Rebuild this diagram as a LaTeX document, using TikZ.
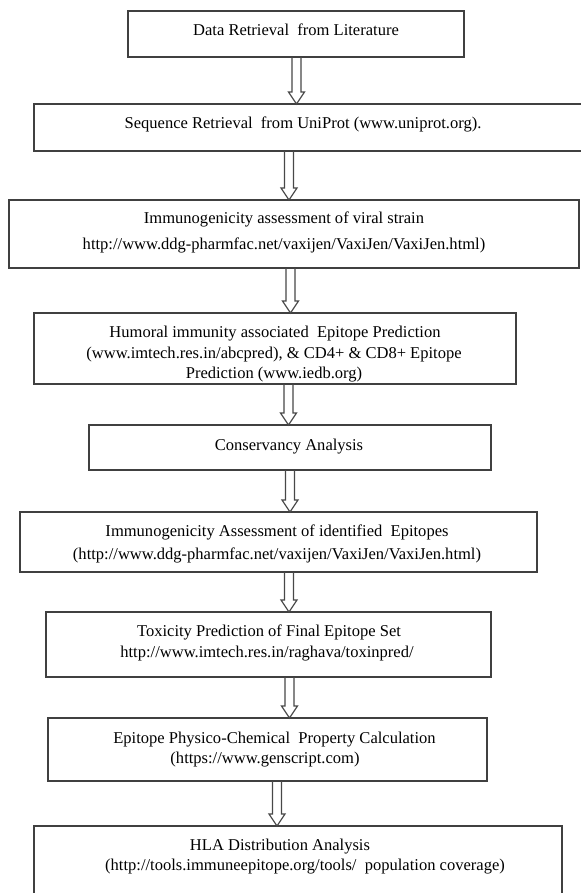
\documentclass[tikz,border=0pt]{standalone}
\usepackage{fontspec}
\setmainfont{Liberation Serif}
\usetikzlibrary{calc,fit}
\definecolor{boxline}{HTML}{404040}
\definecolor{arrline}{HTML}{484848}
\newcommand\flowarrow[3]{%
  \path (#1.south -| #3,0) coordinate (fa-s) (#2.north -| #3,0) coordinate (fa-t);
  \draw[arr] ($(fa-s)+(-4.5,0)$) -- ($(fa-t)+(-4.5,-12)$) -- ($(fa-t)+(-8,-12)$) -- (fa-t)
    -- ($(fa-t)+(8,-12)$) -- ($(fa-t)+(4.5,-12)$) -- ($(fa-s)+(4.5,0)$);
}
\begin{document}
\begin{tikzpicture}[x=0.75pt,y=-0.75pt,
  box/.style={draw=boxline, line width=1.1pt, inner sep=0pt, outer sep=0pt},
  lbl/.style={inner sep=0pt, anchor=base, font=\fontsize{12.4}{14}\selectfont},
  arr/.style={draw=arrline, line width=0.85pt, line join=miter}]
\clip (0,0) rectangle (581,893);
\fill[white] (0,0) rectangle (581,893);
% boxes
\node[box, fit={(128,11) (464,57)}] (b1) {};
\node[box, fit={(34,104) (600,151)}] (b2) {};
\node[box, fit={(9,200) (579,268)}] (b3) {};
\node[box, fit={(34,313) (516,384)}] (b4) {};
\node[box, fit={(89,425) (491,470)}] (b5) {};
\node[box, fit={(20,512) (537,572)}] (b6) {};
\node[box, fit={(46,612) (491,677)}] (b7) {};
\node[box, fit={(48,718) (487,781)}] (b8) {};
\node[box, fit={(34,826) (562,905)}] (b9) {};
% texts
\node[lbl] (t1) at (296,35) {Data Retrieval\ \ from Literature};
\node[lbl] (t2) at (303,128) {Sequence Retrieval\ \ from UniProt (www.uniprot.org).};
\node[lbl] (t3a) at (284,223) {Immunogenicity assessment of viral strain};
\node[lbl] (t3b) at (284,249) {http://www.ddg-pharmfac.net/vaxijen/VaxiJen/VaxiJen.html)};
\node[lbl] (t4a) at (275,337) {Humoral immunity associated\ \ Epitope Prediction};
\node[lbl] (t4b) at (274,358) {(www.imtech.res.in/abcpred), \& CD4+ \& CD8+ Epitope};
\node[lbl] (t4c) at (274,378) {Prediction (www.iedb.org)};
\node[lbl] (t5) at (289,450) {Conservancy Analysis};
\node[lbl] (t6a) at (277,536) {Immunogenicity Assessment of identified\ \ Epitopes};
\node[lbl] (t6b) at (277,559) {(http://www.ddg-pharmfac.net/vaxijen/VaxiJen/VaxiJen.html)};
\node[lbl] (t7a) at (269,636) {Toxicity Prediction of Final Epitope Set};
\node[lbl] (t7b) at (267,657) {http://www.imtech.res.in/raghava/toxinpred/};
\node[lbl] (t8a) at (274.5,743) {Epitope Physico-Chemical\ \ Property Calculation};
\node[lbl] (t8b) at (265,763) {(https://www.genscript.com)};
\node[lbl] (t9a) at (280,850) {HLA Distribution Analysis};
\node[lbl] (t9b) at (305,870) {(http://tools.immuneepitope.org/tools/\ \ population coverage)};
% arrows
\flowarrow{b1}{b2}{296.5}
\flowarrow{b2}{b3}{289}
\flowarrow{b3}{b4}{290.5}
\flowarrow{b4}{b5}{288.5}
\flowarrow{b5}{b6}{290}
\flowarrow{b6}{b7}{289}
\flowarrow{b7}{b8}{289.5}
\flowarrow{b8}{b9}{277}
\end{tikzpicture}
\end{document}
